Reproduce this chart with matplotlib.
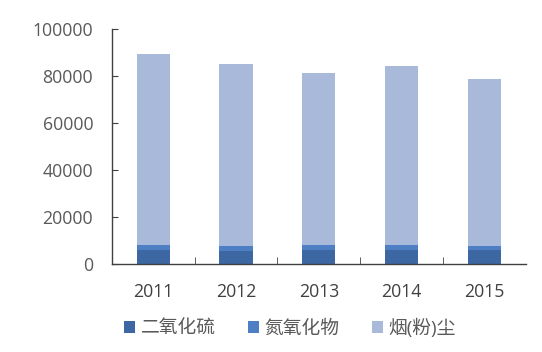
import matplotlib
matplotlib.use('Agg')
import matplotlib.pyplot as plt
import numpy as np

plt.rcParams['font.family'] = ['Open Sans', 'Noto Sans CJK SC', 'DejaVu Sans']

years = ['2011', '2012', '2013', '2014', '2015']
so2 = [6000, 5600, 5900, 5800, 5800]
nox = [1800, 2000, 1900, 2300, 1700]
dust = [81400, 77400, 73600, 76000, 71200]
names = ['二氧化硫', '氮氧化物', '烟(粉)尘']
colors = ['#3D67A3', '#4E7FC4', '#A8B9DA']

fig = plt.figure(figsize=(5.42, 3.52), dpi=100)
ax = fig.add_axes([0.2066, 0.251, 0.763, 0.667])

x = np.arange(len(years))
bottom = np.zeros(len(years))
for vals, name, c in zip([so2, nox, dust], names, colors):
    ax.bar(x, vals, 0.4, bottom=bottom, color=c, label=name)
    bottom += np.array(vals)

ax.set_xlim(-0.5, len(years) - 0.5)
ax.set_ylim(0, 100000)
ax.set_yticks(range(0, 100001, 20000))
ax.set_xticks(x)
ax.set_xticklabels(years)
ax.set_xticks(np.arange(0.5, len(years) - 1, 1), minor=True)

for s in ['top', 'right']:
    ax.spines[s].set_visible(False)
for s in ['left', 'bottom']:
    ax.spines[s].set_color('#404040')
    ax.spines[s].set_linewidth(1.0)

ax.tick_params(axis='y', direction='in', length=4, color='#404040', labelsize=12.7, labelcolor='#595959', pad=13.5)
ax.tick_params(axis='x', which='major', length=0, labelsize=12.7, labelcolor='#404040', pad=14)
ax.tick_params(axis='x', which='minor', direction='in', length=5, color='#404040')

leg = fig.legend(loc='center', bbox_to_anchor=(0.535, 0.068), ncol=3, frameon=False,
                 fontsize=13.5, handlelength=0.6, handleheight=0.6, handletextpad=0.3,
                 columnspacing=1.7)
for t in leg.get_texts():
    t.set_color('#595959')

fig.savefig('out.png', dpi=100)
